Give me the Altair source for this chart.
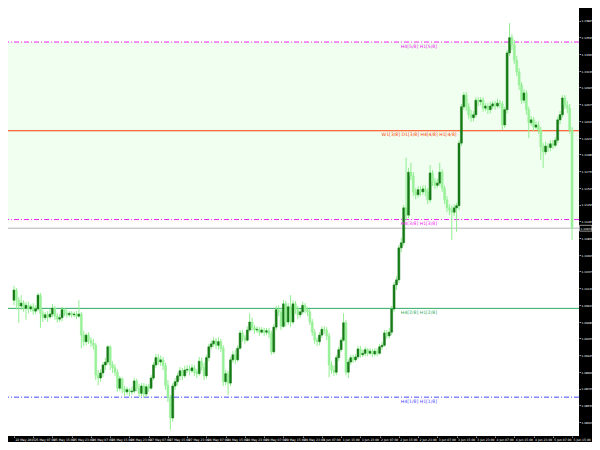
import json
import altair as alt
import pandas as pd

# ---------------- data (H1 candles, 22 May 23:00 .. 5 Jun 15:00) -------------
first_open = 1.0998
close = [
    1.1012, 1.0998, 1.0990, 1.0994, 1.0987, 1.0991, 1.0986, 1.0989, 1.0983, 1.0986,
    1.1005, 1.0980, 1.0974, 1.0978, 1.0975, 1.0979, 1.0987, 1.0976, 1.0972, 1.0974,
    1.0985, 1.0980, 1.0978, 1.0980, 1.0978, 1.0979, 1.0976, 1.0979, 1.0950, 1.0941,
    1.0950, 1.0943, 1.0939, 1.0936, 1.0895, 1.0891, 1.0898, 1.0909, 1.0913, 1.0934,
    1.0909, 1.0905, 1.0899, 1.0877, 1.0890, 1.0876, 1.0872, 1.0875, 1.0872, 1.0873,
    1.0887, 1.0877, 1.0870, 1.0880, 1.0869, 1.0879, 1.0877, 1.0891, 1.0909, 1.0919,
    1.0913, 1.0916, 1.0908, 1.0881, 1.0864, 1.0836, 1.0880, 1.0886, 1.0894, 1.0901,
    1.0894, 1.0902, 1.0903, 1.0901, 1.0905, 1.0899, 1.0897, 1.0914, 1.0906, 1.0894,
    1.0919, 1.0934, 1.0938, 1.0942, 1.0936, 1.0941, 1.0932, 1.0886, 1.0897, 1.0884,
    1.0916, 1.0923, 1.0916, 1.0932, 1.0953, 1.0946, 1.0943, 1.0957, 1.0968, 1.0960,
    1.0957, 1.0958, 1.0954, 1.0957, 1.0954, 1.0956, 1.0952, 1.0927, 1.0961, 1.0985,
    1.0982, 1.0962, 1.0993, 1.0968, 1.0989, 1.0968, 1.0993, 1.0985, 1.0978, 1.0982,
    1.0991, 1.0985, 1.0982, 1.0968, 1.0954, 1.0943, 1.0941, 1.0950, 1.0958, 1.0957,
    1.0949, 1.0909, 1.0902, 1.0899, 1.0919, 1.0930, 1.0943, 1.0967, 1.0899, 1.0913,
    1.0919, 1.0916, 1.0920, 1.0931, 1.0923, 1.0925, 1.0930, 1.0925, 1.0928, 1.0924,
    1.0928, 1.0925, 1.0934, 1.0936, 1.0953, 1.0949, 1.0954, 1.0986, 1.1019, 1.1026,
    1.1070, 1.1077, 1.1125, 1.1115, 1.1174, 1.1169, 1.1147, 1.1143, 1.1150, 1.1147,
    1.1151, 1.1147, 1.1136, 1.1173, 1.1161, 1.1156, 1.1159, 1.1174, 1.1152, 1.1136,
    1.1125, 1.1122, 1.1119, 1.1125, 1.1128, 1.1214, 1.1264, 1.1280, 1.1264, 1.1253,
    1.1249, 1.1253, 1.1273, 1.1271, 1.1273, 1.1262, 1.1265, 1.1260, 1.1265, 1.1268,
    1.1265, 1.1269, 1.1268, 1.1239, 1.1260, 1.1338, 1.1359, 1.1349, 1.1328, 1.1312,
    1.1294, 1.1273, 1.1283, 1.1260, 1.1242, 1.1246, 1.1236, 1.1239, 1.1232, 1.1209,
    1.1202, 1.1210, 1.1208, 1.1213, 1.1211, 1.1218, 1.1246, 1.1253, 1.1276, 1.1266,
    1.1262, 1.1232, 1.1097,
]
high = [
    1.1018, 1.1015, 1.1002, 1.1005, 1.0998, 1.0996, 1.0996, 1.0993, 1.0994, 1.0991,
    1.1008, 1.1008, 1.0985, 1.0982, 1.0983, 1.0986, 1.0993, 1.0990, 1.0980, 1.0979,
    1.0989, 1.0987, 1.0985, 1.0983, 1.0983, 1.0982, 1.0983, 1.0998, 1.0982, 1.0956,
    1.0953, 1.0954, 1.0947, 1.0945, 1.0939, 1.0902, 1.0903, 1.0913, 1.0919, 1.0936,
    1.0936, 1.0914, 1.0910, 1.0903, 1.0894, 1.0892, 1.0880, 1.0879, 1.0877, 1.0879,
    1.0891, 1.0890, 1.0883, 1.0884, 1.0884, 1.0883, 1.0883, 1.0895, 1.0913, 1.0924,
    1.0924, 1.0922, 1.0920, 1.0912, 1.0888, 1.0868, 1.0884, 1.0891, 1.0898, 1.0906,
    1.0905, 1.0908, 1.0909, 1.0908, 1.0910, 1.0909, 1.0903, 1.0920, 1.0919, 1.0912,
    1.0923, 1.0938, 1.0943, 1.0947, 1.0946, 1.0947, 1.0945, 1.0936, 1.0902, 1.0901,
    1.0920, 1.0928, 1.0930, 1.0936, 1.0957, 1.0957, 1.0950, 1.0962, 1.0980, 1.0974,
    1.0964, 1.0962, 1.0961, 1.0961, 1.0960, 1.0960, 1.0960, 1.0956, 1.0965, 1.0990,
    1.0991, 1.0987, 1.0998, 1.0997, 1.0994, 1.1005, 1.0998, 1.0997, 1.0990, 1.0986,
    1.0996, 1.0994, 1.0989, 1.0986, 1.0972, 1.0958, 1.0947, 1.0954, 1.0962, 1.0962,
    1.0961, 1.0953, 1.0914, 1.0908, 1.0923, 1.0934, 1.0947, 1.0980, 1.0971, 1.0917,
    1.0923, 1.0923, 1.0924, 1.0935, 1.0935, 1.0930, 1.0934, 1.0932, 1.0932, 1.0931,
    1.0932, 1.0932, 1.0938, 1.0941, 1.0957, 1.0957, 1.0960, 1.0990, 1.1023, 1.1031,
    1.1074, 1.1084, 1.1129, 1.1194, 1.1180, 1.1187, 1.1174, 1.1152, 1.1155, 1.1155,
    1.1156, 1.1156, 1.1152, 1.1184, 1.1177, 1.1166, 1.1165, 1.1187, 1.1178, 1.1156,
    1.1141, 1.1130, 1.1128, 1.1130, 1.1132, 1.1218, 1.1268, 1.1284, 1.1284, 1.1269,
    1.1260, 1.1258, 1.1277, 1.1277, 1.1277, 1.1277, 1.1269, 1.1269, 1.1271, 1.1272,
    1.1272, 1.1275, 1.1273, 1.1272, 1.1264, 1.1342, 1.1379, 1.1364, 1.1356, 1.1334,
    1.1317, 1.1298, 1.1288, 1.1287, 1.1264, 1.1251, 1.1250, 1.1244, 1.1244, 1.1236,
    1.1214, 1.1216, 1.1214, 1.1218, 1.1218, 1.1222, 1.1250, 1.1258, 1.1280, 1.1280,
    1.1272, 1.1268, 1.1236,
]
low = [
    1.0991, 1.0985, 1.0967, 1.0985, 1.0982, 1.0971, 1.0980, 1.0982, 1.0978, 1.0979,
    1.0983, 1.0960, 1.0968, 1.0971, 1.0968, 1.0972, 1.0975, 1.0971, 1.0967, 1.0968,
    1.0969, 1.0976, 1.0974, 1.0975, 1.0974, 1.0975, 1.0972, 1.0974, 1.0932, 1.0935,
    1.0936, 1.0938, 1.0934, 1.0930, 1.0888, 1.0881, 1.0886, 1.0892, 1.0902, 1.0909,
    1.0902, 1.0898, 1.0894, 1.0872, 1.0873, 1.0870, 1.0866, 1.0868, 1.0866, 1.0868,
    1.0870, 1.0873, 1.0865, 1.0866, 1.0864, 1.0865, 1.0872, 1.0875, 1.0888, 1.0905,
    1.0909, 1.0908, 1.0902, 1.0875, 1.0858, 1.0820, 1.0831, 1.0875, 1.0881, 1.0888,
    1.0888, 1.0891, 1.0898, 1.0895, 1.0898, 1.0894, 1.0891, 1.0894, 1.0901, 1.0888,
    1.0890, 1.0914, 1.0930, 1.0934, 1.0931, 1.0930, 1.0927, 1.0880, 1.0881, 1.0868,
    1.0880, 1.0912, 1.0910, 1.0913, 1.0930, 1.0941, 1.0938, 1.0941, 1.0954, 1.0956,
    1.0952, 1.0953, 1.0949, 1.0952, 1.0949, 1.0950, 1.0946, 1.0923, 1.0924, 1.0957,
    1.0976, 1.0957, 1.0960, 1.0962, 1.0964, 1.0961, 1.0965, 1.0979, 1.0972, 1.0974,
    1.0979, 1.0980, 1.0976, 1.0964, 1.0949, 1.0938, 1.0935, 1.0936, 1.0946, 1.0952,
    1.0943, 1.0892, 1.0897, 1.0894, 1.0895, 1.0914, 1.0927, 1.0941, 1.0895, 1.0891,
    1.0909, 1.0912, 1.0913, 1.0917, 1.0919, 1.0920, 1.0921, 1.0921, 1.0923, 1.0920,
    1.0921, 1.0921, 1.0923, 1.0930, 1.0934, 1.0945, 1.0945, 1.0950, 1.0982, 1.1012,
    1.1022, 1.1064, 1.1073, 1.1108, 1.1111, 1.1163, 1.1141, 1.1137, 1.1139, 1.1141,
    1.1143, 1.1141, 1.1130, 1.1132, 1.1155, 1.1151, 1.1152, 1.1155, 1.1147, 1.1130,
    1.1119, 1.1115, 1.1081, 1.1114, 1.1092, 1.1122, 1.1210, 1.1260, 1.1258, 1.1247,
    1.1243, 1.1244, 1.1249, 1.1265, 1.1266, 1.1257, 1.1258, 1.1254, 1.1255, 1.1261,
    1.1260, 1.1262, 1.1262, 1.1232, 1.1235, 1.1255, 1.1334, 1.1342, 1.1323, 1.1306,
    1.1287, 1.1268, 1.1269, 1.1253, 1.1221, 1.1238, 1.1231, 1.1233, 1.1227, 1.1191,
    1.1180, 1.1198, 1.1202, 1.1203, 1.1206, 1.1208, 1.1214, 1.1240, 1.1249, 1.1261,
    1.1255, 1.1227, 1.1081,
]

# time-axis labels, one every 8 bars
tick_labels = [
    "22 May 2015",
    "25 May 07:00", "25 May 15:00", "25 May 23:00",
    "26 May 07:00", "26 May 15:00", "26 May 23:00",
    "27 May 07:00", "27 May 15:00", "27 May 23:00",
    "28 May 07:00", "28 May 15:00", "28 May 23:00",
    "29 May 07:00", "29 May 15:00", "29 May 23:00",
    "1 Jun 07:00", "1 Jun 15:00", "1 Jun 23:00",
    "2 Jun 07:00", "2 Jun 15:00", "2 Jun 23:00",
    "3 Jun 07:00", "3 Jun 15:00", "3 Jun 23:00",
    "4 Jun 07:00", "4 Jun 15:00", "4 Jun 23:00",
    "5 Jun 07:00", "5 Jun 15:00",
]
price_ticks = [
    1.13825, 1.13595, 1.13365, 1.13135, 1.12905, 1.12675, 1.12445, 1.12215,
    1.11985, 1.11755, 1.11525, 1.11295, 1.11065, 1.10835, 1.10605, 1.10375, 1.10145,
    1.09915, 1.09685, 1.09455, 1.09225, 1.08995, 1.08765, 1.08535, 1.08305,
]

# Murrey-math levels
level_prices = [1.13530, 1.12310, 1.11089, 1.09868, 1.08647]
level_texts = ["H4[5/8] H1[5/8]", "W1[3/8] D1[3/8] H4[4/8] H1[4/8]",
               "H4[3/8] H1[3/8]", "H4[2/8] H1[2/8]", "H4[1/8] H1[1/8]"]
level_anchor = [160, 152, 160, 160, 160]
level_colors = ["#EE22EE", "#FF3C00", "#EE22EE", "#2EAA60", "#4848FF"]
level_styles = ["dashdot", "solid", "dashdot", "solid", "dashdot"]

UP_BODY = "#157A15"
DOWN_BODY = "#98F098"
WICK = "#90EE90"
FONT = "DejaVu Sans"

PLOT_W, PLOT_H = 571, 428
AXIS_R, AXIS_B = 13, 6

# ---------------- tables ----------------
n = len(close)
opens = [first_open] + close[:-1]
bars = pd.DataFrame({"i": list(range(n)), "open": opens, "close": close,
                     "high": high, "low": low})
bars["high"] = bars[["high", "open", "close"]].max(axis=1)
bars["low"] = bars[["low", "open", "close"]].min(axis=1)
bars["dir"] = ["up" if c >= o else "down" for o, c in zip(bars["open"], bars["close"])]

levels = pd.DataFrame({"price": level_prices, "label": level_texts, "anchor": level_anchor,
                       "color": level_colors, "style": level_styles})
zone = pd.DataFrame({"top": [level_prices[0]], "bottom": [level_prices[2]]})
last = pd.DataFrame({"price": [close[-1]], "label": [f"{close[-1]:.5f}"]})
one = pd.DataFrame({"k": [0]})

x_scale = alt.Scale(domain=[-0.4, 232.8], nice=False, zero=False)
y_scale = alt.Scale(domain=[1.08113, 1.13998], nice=False, zero=False)

label_expr = json.dumps(tick_labels) + "[round(datum.value / 8)]"
x_axis = alt.Axis(values=list(range(0, n, 8)), labelExpr=label_expr, labelAlign="left",
                  labelBaseline="top", labelFontSize=3, labelColor="white", labelFont=FONT,
                  labelOffset=1, labelPadding=0.3, tickColor="white", tickSize=1.5,
                  tickWidth=0.6, domain=False, grid=False, title=None, labelFlush=False,
                  labelOverlap=False, labelBound=False, zindex=2)
y_axis = alt.Axis(orient="right", values=price_ticks, format=".5f", labelFontSize=2.8,
                  labelColor="white", labelFont=FONT, tickColor="white", tickSize=1.5,
                  tickWidth=0.6, labelPadding=0.5, domain=False, grid=False, title=None,
                  labelFlush=False, labelOverlap=False, zindex=2)


def X(field):
    return alt.X(field, type="quantitative", scale=x_scale, axis=x_axis)


def Y(field):
    return alt.Y(field, type="quantitative", scale=y_scale, axis=y_axis)


zone_layer = alt.Chart(zone).mark_rect(color="#F0FFF0").encode(y=Y("top"), y2="bottom")

level_rules = alt.Chart(levels).mark_rule(strokeWidth=1).encode(
    y=Y("price"),
    color=alt.Color("color:N", scale=None),
    strokeDash=alt.StrokeDash("style:N", scale=alt.Scale(domain=["solid", "dashdot"],
                                                         range=[[1, 0], [5, 2, 1, 2]]),
                              legend=None),
)

bid_line = alt.Chart(last).mark_rule(color="#B4B4B4", strokeWidth=1).encode(y=Y("price"))

wicks = alt.Chart(bars).mark_rule(color=WICK, strokeWidth=1).encode(
    x=X("i"), y=Y("low"), y2="high")

dir_scale = alt.Scale(domain=["up", "down"], range=[UP_BODY, DOWN_BODY])
bodies = alt.Chart(bars).mark_bar(size=2, strokeWidth=0.5).encode(
    x=X("i"), y=Y("open"), y2="close",
    color=alt.Color("dir:N", scale=dir_scale, legend=None),
    stroke=alt.Stroke("dir:N", scale=dir_scale, legend=None),
)

level_labels = alt.Chart(levels).mark_text(align="left", baseline="top", dx=2, dy=1.5,
                                           fontSize=4.6, font=FONT).encode(
    x=X("anchor"), y=Y("price"), text="label:N", color=alt.Color("color:N", scale=None))

# black price-scale and time-scale strips
strip_right = alt.Chart(one).mark_rect(color="black", clip=False).encode(
    x=alt.value(PLOT_W), x2=alt.value(PLOT_W + AXIS_R),
    y=alt.value(0), y2=alt.value(PLOT_H + AXIS_B))
strip_bottom = alt.Chart(one).mark_rect(color="black", clip=False).encode(
    x=alt.value(0), x2=alt.value(PLOT_W + AXIS_R),
    y=alt.value(PLOT_H), y2=alt.value(PLOT_H + AXIS_B))

price_box = alt.Chart(last).transform_calculate(
    top="datum.price + 0.0004", bottom="datum.price - 0.0004"
).mark_rect(fill="black", stroke="white", strokeWidth=0.6, clip=False).encode(
    x=alt.value(PLOT_W + 0.5), x2=alt.value(PLOT_W + AXIS_R), y=Y("top:Q"), y2="bottom:Q")

price_text = alt.Chart(last).mark_text(align="left", baseline="middle", color="white",
                                       fontSize=2.8, font=FONT, clip=False).encode(
    x=alt.value(PLOT_W + 1.5), y=Y("price"), text="label:N")

chart = alt.layer(
    zone_layer, level_rules, bid_line, wicks, bodies, level_labels,
    strip_right, strip_bottom, price_box, price_text
).properties(
    width=PLOT_W, height=PLOT_H,
    padding={"left": 0, "top": 0, "right": AXIS_R, "bottom": AXIS_B},
    autosize=alt.AutoSizeParams(type="none"),
    background="white",
).configure_view(fill="white", strokeWidth=0)

chart.save("out.html", embed_options={"renderer": "svg", "actions": False})
